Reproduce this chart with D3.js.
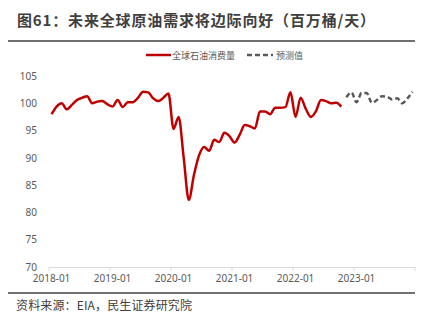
<!DOCTYPE html>
<html><head><meta charset="utf-8">
<script src="https://cdn.jsdelivr.net/npm/d3@7"></script>
<style>
html,body{margin:0;padding:0;background:#fff;}
svg{display:block;font-family:"Noto Sans CJK SC","Microsoft YaHei",sans-serif;}
</style></head>
<body><svg id="c" width="432" height="330"></svg>
<script>
// Data
const years = [2018, 2019, 2020, 2021, 2022, 2023];
const months = [];
years.forEach(yr => { for (let m = 1; m <= 12; m++) months.push(yr + "-" + String(m).padStart(2, "0")); });
const actualValues = [
  98.0, 99.4, 100.0, 98.9, 99.7, 100.6, 101.0, 101.3, 100.0, 100.3, 100.4, 99.8,
  99.4, 100.6, 99.3, 100.2, 100.2, 101.0, 102.1, 102.0, 100.9, 100.4, 101.0, 101.8,
  95.3, 97.5, 90.0, 82.3, 86.8, 90.4, 92.0, 91.3, 93.3, 92.9, 94.6, 94.0,
  92.8, 94.2, 96.0, 95.8, 95.4, 98.5, 98.5, 98.0, 99.2, 99.2, 99.3, 102.0,
  97.5, 101.0, 99.0, 97.5, 98.5, 100.6, 100.4, 100.0, 100.1, 99.4
];
const forecastValues = [
  101.1, 102.0, 100.2, 101.9, 101.9, 100.1, 100.6, 101.3, 101.2, 100.7, 100.9, 100.0, 100.9, 102.1
];
const forecastStart = 58;
const yTicks = [70, 75, 80, 85, 90, 95, 100, 105];
const xTickLabels = ["2018-01", "2019-01", "2020-01", "2021-01", "2022-01", "2023-01"];
const seriesNames = ["全球石油消费量", "预测值"];
const titleText = "图61：未来全球原油需求将边际向好（百万桶/天）";
const sourceText = "资料来源：EIA，民生证券研究院";

const svg = d3.select("#c");
const plotL = 49, plotR = 415, plotT = 76, plotB = 267;

const x = d3.scaleBand().domain(months).range([plotL, plotR]).padding(0);
const cx = m => x(m) + x.bandwidth() / 2;
const y = d3.scaleLinear().domain([70, 105]).range([plotB, plotT]);

// Title
svg.append("text").attr("x", 17).attr("y", 26).attr("font-size", 15).attr("font-weight", "bold")
  .attr("fill", "#3f3f3f").attr("textLength", 358).attr("lengthAdjust", "spacing").text(titleText);
// Top & bottom rules
svg.append("line").attr("x1", 8).attr("x2", 415).attr("y1", 41).attr("y2", 41)
  .attr("stroke", "#3f3f3f").attr("stroke-width", 1.5);
svg.append("line").attr("x1", 8).attr("x2", 415).attr("y1", 293).attr("y2", 293)
  .attr("stroke", "#3f3f3f").attr("stroke-width", 1.5);
// Source
svg.append("text").attr("x", 16).attr("y", 310).attr("font-size", 12)
  .attr("fill", "#404040").attr("textLength", 176).attr("lengthAdjust", "spacing").text(sourceText);

// Y axis labels
const yAxis = d3.axisLeft(y).tickValues(yTicks).tickSize(0).tickPadding(12);
const gy = svg.append("g").attr("transform", `translate(${plotL},0)`).call(yAxis);
gy.select(".domain").remove();
gy.selectAll("text").attr("font-size", 10).attr("fill", "#595959")
  .attr("font-family", "'Noto Sans', 'DejaVu Sans', sans-serif");

// X axis
const xAxis = d3.axisBottom(x).tickValues(xTickLabels).tickSize(0).tickPadding(8);
const gx = svg.append("g").attr("transform", `translate(0,${plotB})`).call(xAxis);
gx.select(".domain").attr("stroke", "#d9d9d9");
gx.selectAll("text").attr("font-size", 10).attr("fill", "#595959")
  .attr("font-family", "'Noto Sans', 'DejaVu Sans', sans-serif");
// boundary ticks every 12 months
const bounds = months.filter((m, i) => i % 12 === 0).map(m => x(m)).concat([plotR]);
svg.append("g").selectAll("line").data(bounds).join("line")
  .attr("x1", d => d).attr("x2", d => d).attr("y1", plotB).attr("y2", plotB + 4)
  .attr("stroke", "#d9d9d9");

// Lines
const line = d3.line().x(d => cx(d.m)).y(d => y(d.v)).curve(d3.curveMonotoneX);
const actual = actualValues.map((v, i) => ({ m: months[i], v }));
const forecast = forecastValues.map((v, i) => ({ m: months[forecastStart + i], v }));
svg.append("path").datum(actual).attr("d", line).attr("fill", "none")
  .attr("stroke", "#c00000").attr("stroke-width", 2.5).attr("stroke-linejoin", "round");
svg.append("path").datum(forecast).attr("d", line).attr("fill", "none")
  .attr("stroke", "#595959").attr("stroke-width", 2.5).attr("stroke-dasharray", "5,3");

// Legend
const lg = svg.append("g");
lg.append("line").attr("x1", 146).attr("x2", 171).attr("y1", 55).attr("y2", 55)
  .attr("stroke", "#c00000").attr("stroke-width", 2.5);
lg.append("text").attr("x", 172).attr("y", 58.5).attr("font-size", 9).attr("fill", "#595959").text(seriesNames[0]);
lg.append("line").attr("x1", 247).attr("x2", 273).attr("y1", 55).attr("y2", 55)
  .attr("stroke", "#595959").attr("stroke-width", 2.5).attr("stroke-dasharray", "5,3");
lg.append("text").attr("x", 276).attr("y", 58.5).attr("font-size", 9).attr("fill", "#595959").text(seriesNames[1]);
</script></body></html>
